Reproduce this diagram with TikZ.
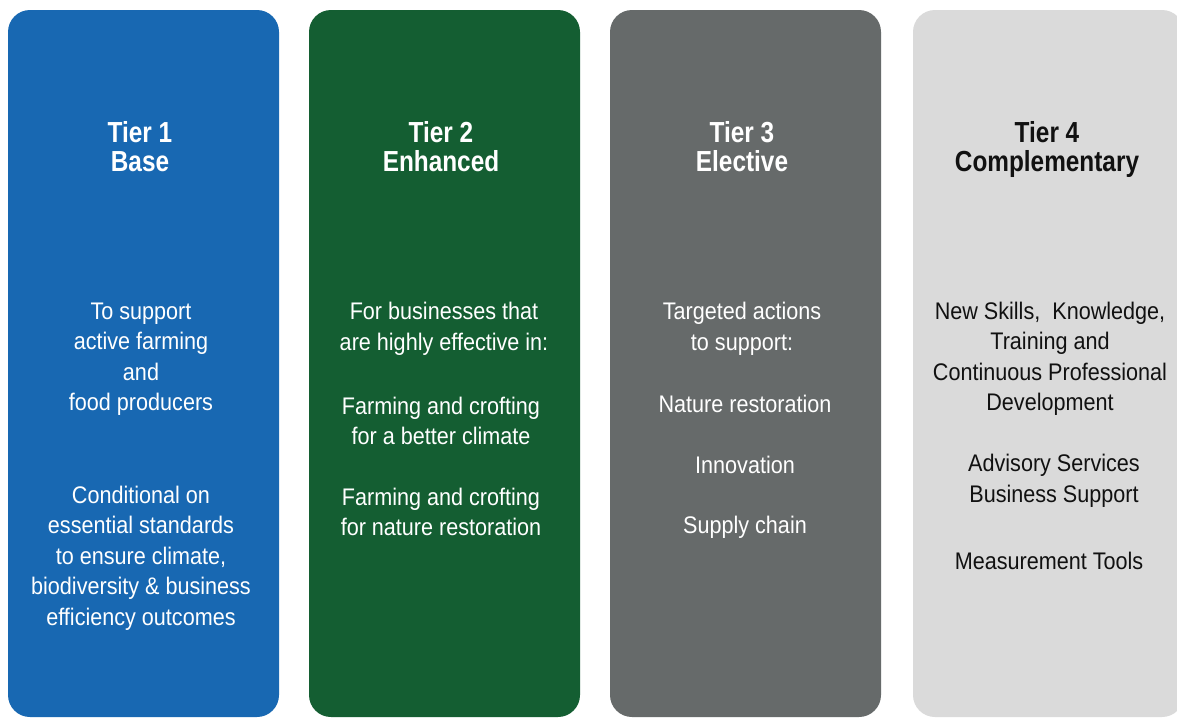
\documentclass[tikz,border=0pt]{standalone}
\usepackage{fontspec}
\setmainfont{Liberation Sans}
\newfontfamily\tierfont[FakeStretch=0.9]{Liberation Sans}
\newfontfamily\headfont[FakeStretch=0.84]{Liberation Sans}
\usepackage{tikz}
\usetikzlibrary{positioning}

\definecolor{tierblue}{RGB}{24,104,178}
\definecolor{tiergreen}{RGB}{20,94,50}
\definecolor{tiergrey}{RGB}{102,106,106}
\definecolor{tierlight}{RGB}{218,218,218}
\definecolor{tierink}{RGB}{17,17,17}

\begin{document}
\begin{tikzpicture}
		[
			x=1pt, y=-1pt,
			align=center,
			column/.style={draw=none, rounded corners=22pt, minimum width=271pt, minimum height=707pt, inner sep=0pt},
			head/.style={font=\headfont\bfseries\fontsize{29}{29}\selectfont},
			body/.style={font=\tierfont\fontsize{24}{30.5}\selectfont, inner sep=0pt}
		]

		\clip (0,0) rectangle (1177,718);
		\fill[white] (0,0) rectangle (1177,718);

		% columns
		\node[column,fill=tierblue]		(c1) at (  143.5, 363.5 ) {};
		\node[column,fill=tiergreen]	(c2) at (  444.5, 363.5 ) {};
		\node[column,fill=tiergrey]		(c3) at (  745.5, 363.5 ) {};
		\node[column,fill=tierlight]	(c4) at ( 1048.5, 363.5 ) {};

		% headings
		\node[head,white]	(h1) at (  140.0, 147 ) {Tier 1\\Base};
		\node[head,white]	(h2) at (  441.0, 147 ) {Tier 2\\Enhanced};
		\node[head,white]	(h3) at (  742.0, 147 ) {Tier 3\\Elective};
		\node[head,tierink]	(h4) at ( 1047.0, 149 ) {Tier 4\\Complementary};

		% tier 1
		\node[body,white] (t1a) at ( 141, 359 ) {To support\\active farming\\and\\food producers};
		\node[body,white] (t1b) at ( 141, 558 ) {Conditional on\\essential standards\\to ensure climate,\\biodiversity \& business\\efficiency outcomes};

		% tier 2
		\node[body,white] (t2a) at ( 444, 329 ) {For businesses that\\are highly effective in:};
		\node[body,white] (t2b) at ( 441, 421 ) {Farming and crofting\\for a better climate};
		\node[body,white] (t2c) at ( 441, 512 ) {Farming and crofting\\for nature restoration};

		% tier 3
		\node[body,white] (t3a) at ( 742, 329 ) {Targeted actions\\to support:};
		\node[body,white] (t3b) at ( 745, 404 ) {Nature restoration};
		\node[body,white] (t3c) at ( 745, 465 ) {Innovation};
		\node[body,white] (t3d) at ( 745, 527 ) {Supply chain};

		% tier 4
		\node[body,tierink] (t4a) at ( 1050, 359 ) {New Skills,~ Knowledge,\\Training and\\Continuous Professional\\Development};
		\node[body,tierink] (t4b) at ( 1054, 481 ) {Advisory Services\\Business Support};
		\node[body,tierink] (t4c) at ( 1049, 561 ) {Measurement Tools};

	\end{tikzpicture}
\end{document}
